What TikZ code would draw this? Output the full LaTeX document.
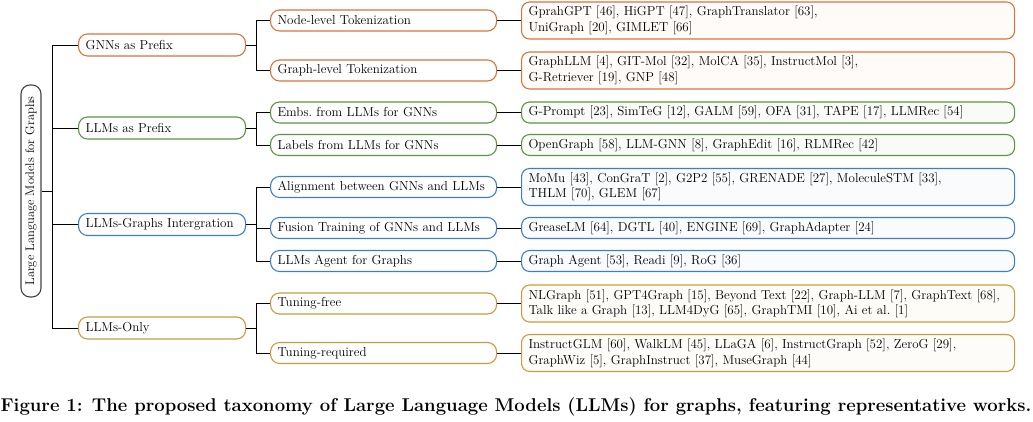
\documentclass[tikz,border=0pt]{standalone}
\usepackage{tikz}

\definecolor{gnnorange}{HTML}{D8743A}
\definecolor{llmgreen}{HTML}{5E9440}
\definecolor{intblue}{HTML}{3D7EC4}
\definecolor{onlygold}{HTML}{CC9A3C}
\definecolor{rootgray}{HTML}{444444}

\tikzset{
	taxbox/.style={draw, line width=1.1pt, rounded corners=9pt, anchor=west,
			inner xsep=7pt, inner ysep=0pt, align=left, fill=white,
			font=\fontsize{13}{15.5}\selectfont},
	catbox/.style={taxbox, minimum height=22pt, text width=153pt},
	subbox/.style={taxbox, minimum height=21pt, text width=212pt},
	workbox/.style={taxbox, minimum height=21pt, text width=479pt, rounded corners=8pt},
	twolines/.style={minimum height=37pt},
	link/.style={line width=0.8pt, black},
}

\begin{document}
\begin{tikzpicture}[x=1pt, y=-1pt]
		\useasboundingbox (0,0) rectangle (1033,422);

		% Root of the taxonomy
		\node[draw=rootgray, line width=1.1pt, rounded corners=9pt, rotate=90,
			minimum width=212pt, minimum height=20pt, inner sep=0pt,
			font=\fontsize{12.5}{15.5}\selectfont] (root) at (31,191) {Large Language Models for Graphs};
		\coordinate (trunk) at (52,191);

		% First level categories
		\node[catbox, draw=gnnorange] (gnnprefix) at (78,45) {GNNs as Prefix};
		\node[catbox, draw=llmgreen] (llmprefix) at (78,128) {LLMs as Prefix};
		\node[catbox, draw=intblue] (integration) at (78,224.5) {LLMs-Graphs Intergration};
		\node[catbox, draw=onlygold] (llmonly) at (78,328) {LLMs-Only};

		% Second level categories
		\node[subbox, draw=gnnorange] (nodetok) at (270,20.5) {Node-level Tokenization};
		\node[subbox, draw=gnnorange] (graphtok) at (270,70.5) {Graph-level Tokenization};
		\node[subbox, draw=llmgreen] (embs) at (270,112.5) {Embs.\ from LLMs for GNNs};
		\node[subbox, draw=llmgreen] (labels) at (270,145) {Labels from LLMs for GNNs};
		\node[subbox, draw=intblue] (align) at (270,187) {Alignment between GNNs and LLMs};
		\node[subbox, draw=intblue] (fusion) at (270,228) {Fusion Training of GNNs and LLMs};
		\node[subbox, draw=intblue] (agent) at (270,261) {LLMs Agent for Graphs};
		\node[subbox, draw=onlygold] (tunefree) at (270,303.5) {Tuning-free};
		\node[subbox, draw=onlygold] (tunereq) at (270,353) {Tuning-required};

		% Representative works
		\node[workbox, twolines, draw=gnnorange, fill=gnnorange!3] (nodetokw) at (521,20.5)
		{GprahGPT [46], HiGPT [47], GraphTranslator [63],\\UniGraph [20], GIMLET [66]};
		\node[workbox, twolines, draw=gnnorange, fill=gnnorange!3] (graphtokw) at (521,70.5)
		{GraphLLM [4], GIT-Mol [32], MolCA [35], InstructMol [3],\\G-Retriever [19], GNP [48]};
		\node[workbox, draw=llmgreen, fill=llmgreen!4] (embsw) at (521,112.5)
		{G-Prompt [23], SimTeG [12], GALM [59], OFA [31], TAPE [17], LLMRec [54]};
		\node[workbox, draw=llmgreen, fill=llmgreen!4] (labelsw) at (521,145)
		{OpenGraph [58], LLM-GNN [8], GraphEdit [16], RLMRec [42]};
		\node[workbox, twolines, draw=intblue, fill=intblue!3] (alignw) at (521,187)
		{MoMu [43], ConGraT [2], G2P2 [55], GRENADE [27], MoleculeSTM [33],\\THLM [70], GLEM [67]};
		\node[workbox, draw=intblue, fill=intblue!3] (fusionw) at (521,228)
		{GreaseLM [64], DGTL [40], ENGINE [69], GraphAdapter [24]};
		\node[workbox, draw=intblue, fill=intblue!3] (agentw) at (521,261)
		{Graph Agent [53], Readi [9], RoG [36]};
		\node[workbox, twolines, draw=onlygold, fill=onlygold!3] (tunefreew) at (521,303.5)
		{NLGraph [51], GPT4Graph [15], Beyond Text [22], Graph-LLM [7], GraphText [68],\\Talk like a Graph [13], LLM4DyG [65], GraphTMI [10], Ai et al.\ [1]};
		\node[workbox, twolines, draw=onlygold, fill=onlygold!3] (tunereqw) at (521,353)
		{InstructGLM [60], WalkLM [45], LLaGA [6], InstructGraph [52], ZeroG [29],\\GraphWiz [5], GraphInstruct [37], MuseGraph [44]};

		% Connectors
		\draw[link] (root.south) -- (trunk);
		\foreach \c in {gnnprefix, llmprefix, integration, llmonly} {
				\draw[link] (trunk) |- (\c.west);
			}
		\foreach \p/\c in {gnnprefix/nodetok, gnnprefix/graphtok, llmprefix/embs, llmprefix/labels,
				integration/align, integration/fusion, integration/agent, llmonly/tunefree, llmonly/tunereq} {
				\draw[link] (\p.east) -- ++(10,0) |- (\c.west);
			}
		\foreach \c in {nodetok, graphtok, embs, labels, align, fusion, agent, tunefree, tunereq} {
				\draw[link] (\c.east) -- (\c w.west);
			}

		% Caption
		\node[font=\fontsize{18.5}{20}\selectfont\bfseries] (caption) at (516,407)
		{Figure 1: The proposed taxonomy of Large Language Models (LLMs) for graphs, featuring representative works.};
	\end{tikzpicture}
\end{document}
